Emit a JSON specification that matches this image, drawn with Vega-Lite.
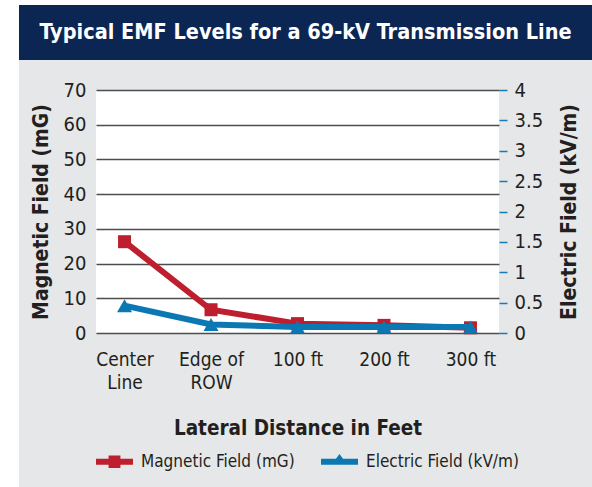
{
  "$schema": "https://vega.github.io/schema/vega-lite/v6.json",
  "background": "#e6e7e8",
  "padding": 0,
  "spacing": 0,
  "config": {
    "view": {"stroke": null},
    "concat": {"spacing": 0},
    "font": "DejaVu Sans Condensed"
  },
  "resolve": {"legend": {"color": "independent"}},
  "hconcat": [
    {
      "width": 19,
      "height": 487,
      "view": {"fill": "white", "stroke": null},
      "data": {"values": []},
      "mark": "rect",
      "encoding": {}
    },
    {
      "columns": 1,
      "align": "none",
      "spacing": 0,
      "resolve": {"legend": {"color": "independent"}},
      "concat": [
        {
          "width": 573,
          "height": 5,
          "view": {"fill": "white", "stroke": null},
          "data": {"values": []},
          "mark": "rect",
          "encoding": {}
        },
        {
          "columns": 1,
          "align": "none",
          "spacing": 20,
          "resolve": {"legend": {"color": "independent"}},
          "concat": [
            {
              "width": 573,
              "height": 55,
              "view": {"fill": "#0c2654", "stroke": null},
              "data": {"values": [{"t": "Typical EMF Levels for a 69-kV Transmission Line"}]},
              "mark": {"type": "text", "font": "DejaVu Sans Condensed", "fontWeight": "bold", "fontSize": 21.5, "color": "white", "baseline": "middle", "align": "center"},
              "encoding": {"text": {"field": "t"}}
            },
            {
              "spacing": 0,
              "resolve": {"legend": {"color": "independent"}},
              "hconcat": [
                {
                  "width": 11,
                  "height": 10,
                  "data": {"values": []},
                  "mark": "rect",
                  "encoding": {}
                },
                {
                  "width": 403,
                  "height": 243,
                  "view": {"fill": "white", "stroke": null},
                  "data": {
                    "values": [
                      {"dist": "Center Line", "mag": 26.3, "elec": 0.45},
                      {"dist": "Edge of ROW", "mag": 6.7, "elec": 0.14},
                      {"dist": "100 ft", "mag": 2.7, "elec": 0.1},
                      {"dist": "200 ft", "mag": 2.2, "elec": 0.1},
                      {"dist": "300 ft", "mag": 1.5, "elec": 0.1}
                    ]
                  },
                  "encoding": {
                    "x": {
                      "field": "dist",
                      "type": "ordinal",
                      "sort": null,
                      "scale": {"type": "point", "padding": 0.33},
                      "axis": {
                        "title": "Lateral Distance in Feet",
                        "labelAngle": 0,
                        "domain": false,
                        "ticks": false,
                        "labelFont": "DejaVu Sans Condensed",
                        "labelFontSize": 19,
                        "labelColor": "#231f20",
                        "labelLineHeight": 23,
                        "labelPadding": 17,
                        "labelExpr": "datum.label === 'Center Line' ? ['Center', 'Line'] : datum.label === 'Edge of ROW' ? ['Edge of', 'ROW'] : datum.label",
                        "titleFont": "DejaVu Sans Condensed",
                        "titleFontSize": 20.5,
                        "titleFontWeight": "bold",
                        "titleColor": "#231f20",
                        "titlePadding": 26
                      }
                    }
                  },
                  "layer": [
                    {
                      "mark": {"type": "line", "strokeWidth": 6, "point": {"shape": "square", "size": 169, "filled": true, "opacity": 1}},
                      "encoding": {
                        "y": {
                          "field": "mag",
                          "type": "quantitative",
                          "scale": {"domain": [0, 70], "nice": false},
                          "axis": {
                            "orient": "left",
                            "title": "Magnetic Field (mG)",
                            "values": [0, 10, 20, 30, 40, 50, 60, 70],
                            "grid": true,
                            "gridColor": "#4d4d4d",
                            "gridWidth": 1.5,
                            "domain": false,
                            "ticks": false,
                            "labelFont": "DejaVu Sans Condensed",
                            "labelFontSize": 20,
                            "labelColor": "#231f20",
                            "labelPadding": 10,
                            "titleFont": "DejaVu Sans Condensed",
                            "titleFontSize": 21,
                            "titleFontWeight": "bold",
                            "titleColor": "#231f20",
                            "titlePadding": 12
                          }
                        },
                        "color": {
                          "datum": "Magnetic Field (mG)",
                          "type": "nominal",
                          "scale": {"domain": ["Magnetic Field (mG)", "Electric Field (kV/m)"], "range": ["#be1e2d", "#0b78b3"]},
                          "legend": {
                            "orient": "bottom",
                            "direction": "horizontal",
                            "title": null,
                            "symbolSize": 1369,
                            "labelFont": "DejaVu Sans Condensed",
                            "labelFontSize": 17,
                            "labelColor": "#231f20",
                            "labelOffset": 8,
                            "columnPadding": 26,
                            "offset": 4,
                            "encode": {
                              "symbols": {
                                "update": {
                                  "shape": {"signal": "datum.value === 'Magnetic Field (mG)' ? 'M-1,-0.16H-0.32V-0.34H0.32V-0.16H1V0.16H0.32V0.34H-0.32V0.16H-1Z' : 'M-1,0.16H1V-0.16H0.19L0,-0.42L-0.19,-0.16H-1Z'"},
                                  "fill": {"signal": "scale('color', datum.value)"},
                                  "fillOpacity": {"value": 1},
                                  "stroke": {"value": null},
                                  "strokeWidth": {"value": 0}
                                }
                              }
                            }
                          }
                        }
                      }
                    },
                    {
                      "mark": {"type": "line", "strokeWidth": 6, "point": {"shape": "triangle-up", "size": 225, "filled": true, "opacity": 1}},
                      "encoding": {
                        "y": {
                          "field": "elec",
                          "type": "quantitative",
                          "scale": {"domain": [0, 4], "nice": false},
                          "axis": {
                            "orient": "right",
                            "title": "Electric Field (kV/m)",
                            "titleAngle": 270,
                            "titleBaseline": "top",
                            "values": [0, 0.5, 1, 1.5, 2, 2.5, 3, 3.5, 4],
                            "labelExpr": "'' + datum.value",
                            "grid": false,
                            "domain": false,
                            "ticks": true,
                            "tickColor": "#1a7ab5",
                            "tickSize": 8,
                            "tickWidth": 1.5,
                            "labelFont": "DejaVu Sans Condensed",
                            "labelFontSize": 20,
                            "labelColor": "#231f20",
                            "labelPadding": 7,
                            "titleFont": "DejaVu Sans Condensed",
                            "titleFontSize": 21,
                            "titleFontWeight": "bold",
                            "titleColor": "#231f20",
                            "titlePadding": 16
                          }
                        },
                        "color": {"datum": "Electric Field (kV/m)", "type": "nominal"}
                      }
                    }
                  ],
                  "resolve": {"scale": {"y": "independent"}}
                }
              ]
            }
          ]
        }
      ]
    }
  ]
}
